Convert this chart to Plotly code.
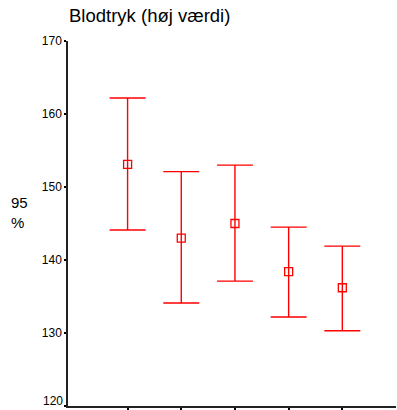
import plotly.graph_objects as go

groups = [1, 2, 3, 4, 5]
means = [153.1, 143.0, 145.0, 138.4, 136.2]
upper = [162.2, 152.1, 153.0, 144.5, 141.9]
lower = [144.1, 134.1, 137.1, 132.2, 130.3]
y_ticks = [120, 130, 140, 150, 160, 170]
y_tick_labels = ["120", "130", "140", "150", "160", "170"]

err_plus = [u - m for u, m in zip(upper, means)]
err_minus = [m - l for m, l in zip(means, lower)]

W, H = 397, 410
ML, MR, MT, MB = 68, 1, 41, 4
PW, PH = W - ML - MR, H - MT - MB

RED = "#ff0000"
fig = go.Figure()
fig.add_trace(go.Scatter(
    x=groups, y=means, mode="markers",
    marker=dict(symbol="square-open", size=8, color=RED, line=dict(width=1.3, color=RED)),
    error_y=dict(type="data", symmetric=False, array=err_plus, arrayminus=err_minus,
                 color=RED, thickness=1.4, width=18),
    showlegend=False, hoverinfo="skip",
))

# lowest label is drawn nudged up (as in the reference), others as normal tick labels
shown_labels = [""] + y_tick_labels[1:]

fig.update_layout(
    width=W, height=H,
    margin=dict(l=ML, r=MR, t=MT, b=MB),
    paper_bgcolor="white", plot_bgcolor="white",
    font=dict(family="Liberation Sans, Arial, sans-serif", color="black"),
    title=dict(text="Blodtryk (høj værdi)", x=69/W, xanchor="left", y=1-16/H, yanchor="middle",
               font=dict(size=18.5, color="black")),
    xaxis=dict(range=[-0.11, 6.0], tickvals=groups, ticktext=["", "", "", "", ""],
               ticks="outside", ticklen=3, tickwidth=2, tickcolor="black",
               showline=True, linecolor="#222", linewidth=1.5, showgrid=False, zeroline=False),
    yaxis=dict(range=[120, 170], tickvals=y_ticks, ticktext=shown_labels, ticks="outside",
               ticklen=2, tickwidth=2, tickcolor="black", showline=True, linecolor="#222",
               linewidth=1.5, showgrid=False, zeroline=False, tickfont=dict(size=12),
               ticklabelstandoff=0),
    annotations=[
        dict(text="95<br>%", x=(19-ML)/PW, y=(H-MB-212)/PH, xref="paper", yref="paper",
             showarrow=False, align="left", xanchor="center", yanchor="middle",
             font=dict(size=15, color="black")),
        dict(text=y_tick_labels[0], x=0, y=y_ticks[0], xref="paper", yref="y", xshift=-3,
             yshift=5, showarrow=False, xanchor="right", yanchor="middle",
             font=dict(size=12, color="black")),
    ],
)

fig.write_html("out.html", config={"displayModeBar": False},
               post_script="document.body.style.margin='0';")
